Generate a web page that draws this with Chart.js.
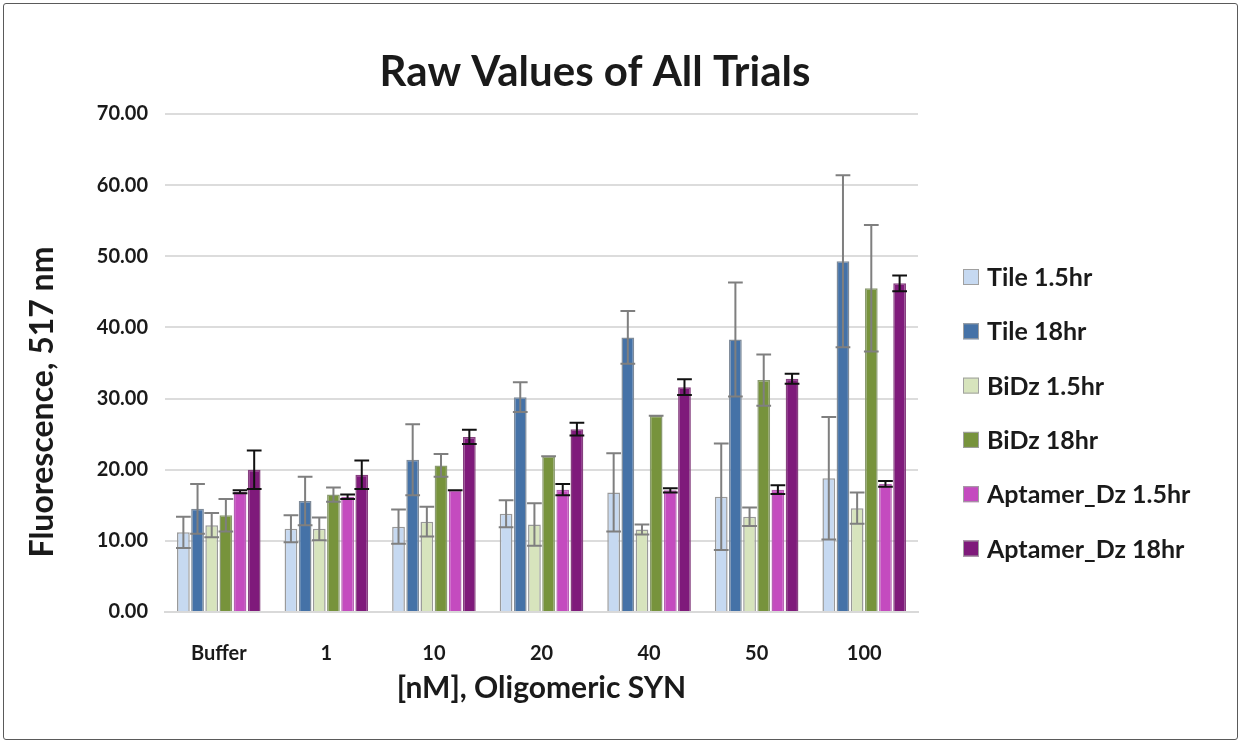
<!DOCTYPE html>
<html>
<head>
<meta charset="utf-8">
<script src="https://cdn.jsdelivr.net/npm/chart.js@4.4.1/dist/chart.umd.min.js"></script>
<style>
    body { margin: 0; background: #fff; }
    #wrap { position: relative; width: 1241px; height: 743px; }
    #frame { position: absolute; left: 3px; top: 3px; right: 3px; bottom: 3px; border: 1.5px solid #5a5a5a; border-radius: 3px; }
    canvas { position: absolute; left: 0; top: 0; }
</style>
</head>
<body>
<div id="wrap">
    <div id="frame"></div>
    <canvas id="rawChart" width="1241" height="743"></canvas>
</div>
<script>
const categories = ['Buffer', '1', '10', '20', '40', '50', '100'];

const tile15 = [11.2, 11.7, 12.0, 13.8, 16.8, 16.2, 18.8];
const tile15Err = [2.2, 1.9, 2.4, 1.9, 5.5, 7.5, 8.6];
const tile18 = [14.5, 15.6, 21.4, 30.2, 38.6, 38.3, 49.3];
const tile18Err = [3.5, 3.4, 5.0, 2.1, 3.7, 8.0, 12.1];
const bidz15 = [12.2, 11.7, 12.7, 12.3, 11.6, 13.4, 14.6];
const bidz15Err = [1.7, 1.6, 2.1, 3.0, 0.7, 1.3, 2.2];
const bidz18 = [13.6, 16.5, 20.6, 21.9, 27.6, 32.6, 45.5];
const bidz18Err = [2.3, 1.0, 1.6, 0, 0, 3.6, 8.9];
const apt15 = [16.9, 16.2, 17.1, 17.2, 17.1, 17.2, 18.0];
const apt15Err = [0.2, 0.3, 0, 0.8, 0.3, 0.6, 0.4];
const apt18 = [20.0, 19.3, 24.6, 25.7, 31.6, 32.8, 46.2];
const apt18Err = [2.7, 2.0, 1.0, 0.9, 1.1, 0.7, 1.1];

const FONT = 'Lato, "Open Sans", sans-serif';
const TEXT = '#1a1a1a';

// error bars drawn from the y scale
const errorBars = {
    id: 'errorBars',
    afterDatasetsDraw(chart) {
        const ctx = chart.ctx;
        const y = chart.scales.y;
        chart.data.datasets.forEach((ds, i) => {
            const meta = chart.getDatasetMeta(i);
            ctx.save();
            ctx.strokeStyle = ds.errColor;
            ctx.lineWidth = 2;
            meta.data.forEach((bar, j) => {
                const v = ds.data[j];
                const e = ds.errors[j];
                const top = y.getPixelForValue(v + e);
                const bot = y.getPixelForValue(v - e);
                const half = bar.width / 2 + 1;
                ctx.beginPath();
                ctx.moveTo(bar.x, top);
                ctx.lineTo(bar.x, bot);
                ctx.moveTo(bar.x - half, top);
                ctx.lineTo(bar.x + half, top);
                ctx.moveTo(bar.x - half, bot);
                ctx.lineTo(bar.x + half, bot);
                ctx.stroke();
            });
            ctx.restore();
        });
    }
};

// title, y title and legend
const decorations = {
    id: 'decorations',
    afterDraw(chart) {
        const ctx = chart.ctx;
        ctx.save();
        ctx.fillStyle = TEXT;
        ctx.textAlign = 'center';
        ctx.textBaseline = 'middle';
        ctx.font = 'bold 42px ' + FONT;
        ctx.fillText('Raw Values of All Trials', 595, 72);

        ctx.save();
        ctx.translate(43, 402);
        ctx.rotate(-Math.PI / 2);
        ctx.font = 'bold 32px ' + FONT;
        ctx.fillText('Fluorescence, 517 nm', 0, 0);
        ctx.restore();

        ctx.textAlign = 'left';
        ctx.font = 'bold 25px ' + FONT;
        chart.data.datasets.forEach((ds, i) => {
            const cy = 277 + i * 54.3;
            ctx.fillStyle = ds.backgroundColor;
            ctx.fillRect(963, cy - 8, 16, 16);
            ctx.strokeStyle = '#a0a0a0';
            ctx.lineWidth = 1;
            ctx.strokeRect(963.5, cy - 7.5, 15, 15);
            ctx.fillStyle = TEXT;
            ctx.fillText(ds.label, 987, cy + 1);
        });
        ctx.restore();
    }
};

const makeSet = (label, data, errors, fill, border, errColor) => ({
    label: label,
    data: data,
    errors: errors,
    errColor: errColor,
    backgroundColor: fill,
    borderColor: border,
    borderWidth: 1.5,
    categoryPercentage: 0.79,
    barPercentage: 0.9
});

new Chart(document.getElementById('rawChart').getContext('2d'), {
    type: 'bar',
    data: {
        labels: categories,
        datasets: [
            makeSet('Tile 1.5hr', tile15, tile15Err, '#c6d9f1', '#9a9a9a', '#7f7f7f'),
            makeSet('Tile 18hr', tile18, tile18Err, '#4572a7', '#7f8b99', '#7f7f7f'),
            makeSet('BiDz 1.5hr', bidz15, bidz15Err, '#d7e4bd', '#9a9a9a', '#7f7f7f'),
            makeSet('BiDz 18hr', bidz18, bidz18Err, '#77933c', '#8a9a70', '#7f7f7f'),
            makeSet('Aptamer_Dz 1.5hr', apt15, apt15Err, '#c44bbf', '#b760b3', '#111111'),
            makeSet('Aptamer_Dz 18hr', apt18, apt18Err, '#7f1a7b', '#86407f', '#111111')
        ]
    },
    options: {
        responsive: false,
        animation: false,
        layout: { padding: { top: 114, left: 10, right: 323, bottom: 10 } },
        plugins: {
            legend: { display: false },
            title: { display: false },
            tooltip: { enabled: false }
        },
        scales: {
            x: {
                afterFit: (scale) => { scale.height = 121; },
                grid: { display: false },
                border: { color: '#d9d9d9', width: 2 },
                ticks: { padding: 22, color: TEXT, font: { family: FONT, size: 20, weight: 'bold' } },
                title: {
                    display: true,
                    text: '[nM], Oligomeric SYN',
                    color: TEXT,
                    font: { family: FONT, size: 30, weight: 'bold' },
                    padding: { top: 0, bottom: 27 }
                }
            },
            y: {
                min: 0,
                max: 70,
                afterFit: (scale) => { scale.width = 155; },
                grid: { color: '#dcdcdc', lineWidth: 2, drawTicks: false },
                border: { display: false },
                ticks: {
                    stepSize: 10,
                    padding: 17,
                    color: TEXT,
                    font: { family: FONT, size: 20, weight: 'bold' },
                    callback: (v) => v.toFixed(2)
                }
            }
        }
    },
    plugins: [errorBars, decorations]
});
</script>
</body>
</html>
